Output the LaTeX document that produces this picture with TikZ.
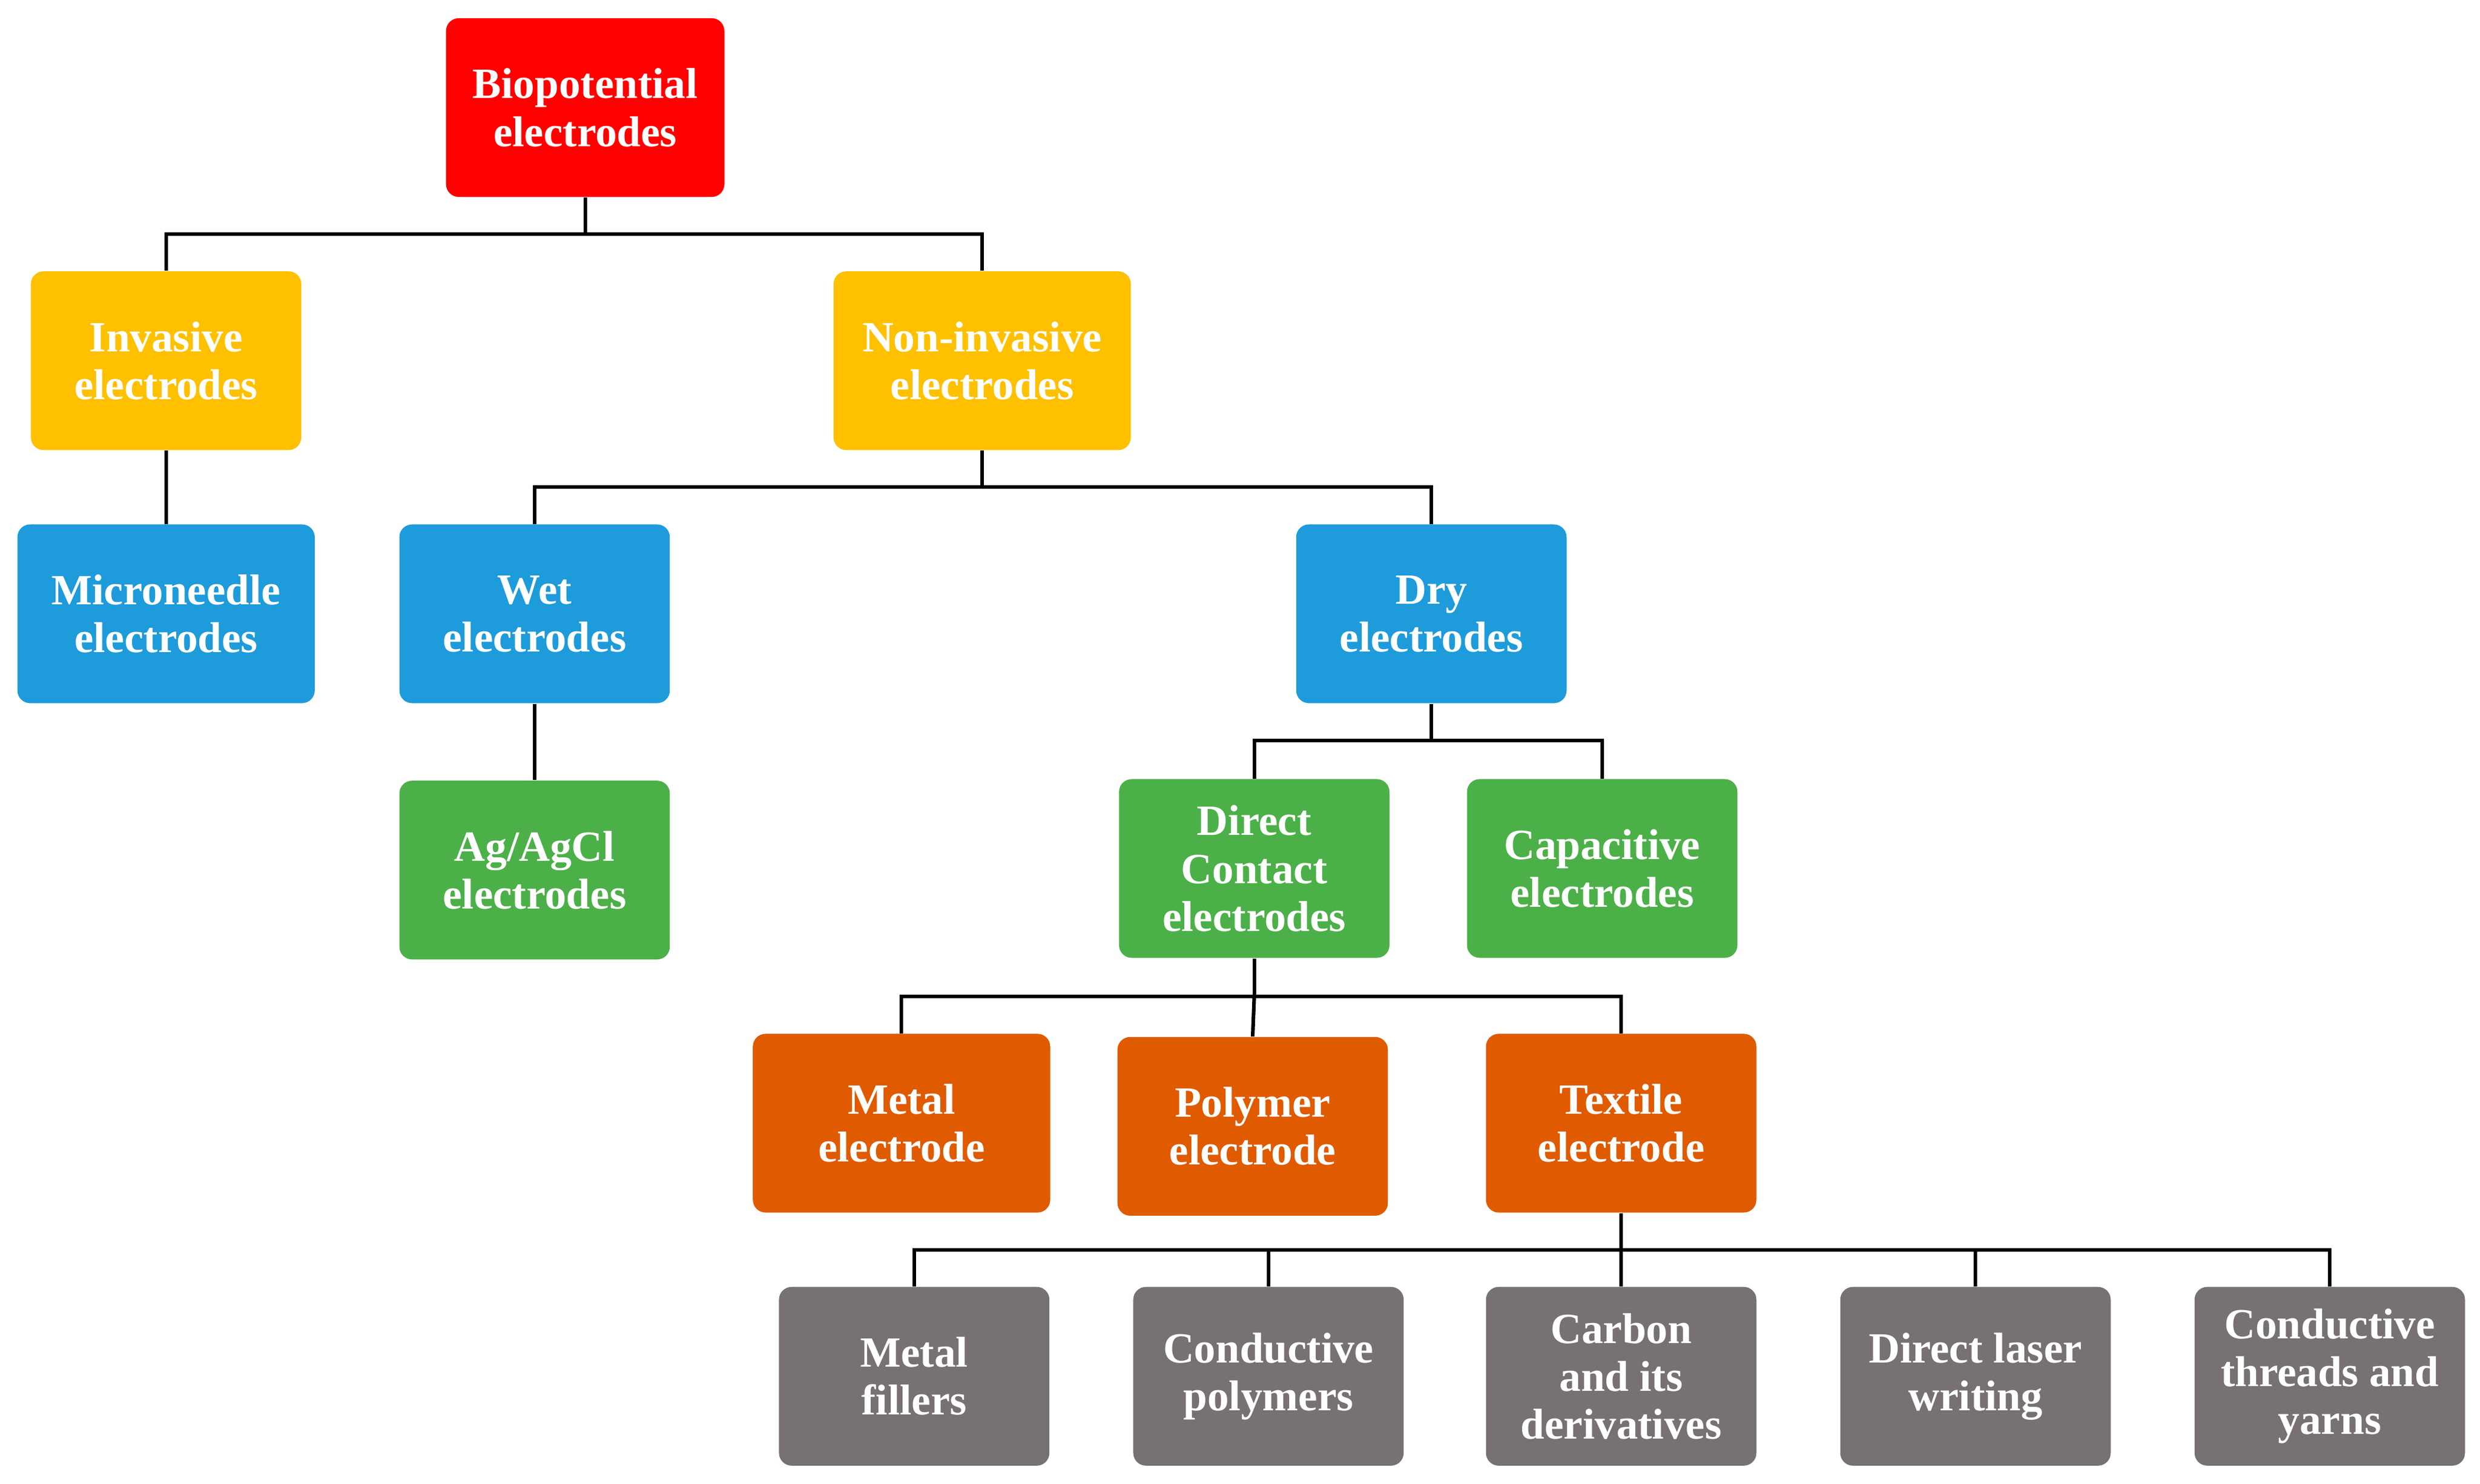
\documentclass[tikz,border=0pt]{standalone}
\usepackage{fontspec}
\setmainfont{Liberation Serif}
\definecolor{cred}{HTML}{FF0000}
\definecolor{cyel}{HTML}{FFC000}
\definecolor{cblue}{HTML}{1E9BDA}
\definecolor{cgreen}{HTML}{4CB048}
\definecolor{corange}{HTML}{E05A00}
\definecolor{cgray}{HTML}{777171}
\begin{document}
\begin{tikzpicture}[x=0.02cm,y=-0.02cm,
  box/.style={rounded corners=0.16cm, minimum width=3.42cm, minimum height=2.26cm,
    text=white, align=center, inner sep=2pt,
    font=\fontsize{15.5}{17.2}\selectfont\bfseries},
  wide/.style={minimum width=3.76cm},
  link/.style={line width=1.3pt, black}]
\fill[white] (0,0) rectangle (1568,938);
\useasboundingbox (0,0) rectangle (1568,938);
\node[box,fill=cred,minimum width=3.52cm] (bio) at (370,68) {Biopotential\\electrodes};
\node[box,fill=cyel] (inv) at (105,228) {Invasive\\electrodes};
\node[box,fill=cyel,wide] (non) at (621,228) {Non-invasive\\electrodes};
\node[box,fill=cblue,wide] (mic) at (105,388) {Microneedle\\electrodes};
\node[box,fill=cblue] (wet) at (338,388) {Wet\\electrodes};
\node[box,fill=cblue] (dry) at (905,388) {Dry\\electrodes};
\node[box,fill=cgreen] (ag) at (338,550) {Ag/AgCl\\electrodes};
\node[box,fill=cgreen] (dc) at (793,549) {Direct\\Contact\\electrodes};
\node[box,fill=cgreen] (cap) at (1013,549) {Capacitive\\electrodes};
\node[box,fill=corange,wide] (me) at (570,710) {Metal\\electrode};
\node[box,fill=corange] (pe) at (792,712) {Polymer\\electrode};
\node[box,fill=corange] (te) at (1025,710) {Textile\\electrode};
\node[box,fill=cgray] (mf) at (578,870) {Metal\\fillers};
\node[box,fill=cgray] (cp) at (802,870) {Conductive\\polymers};
\node[box,fill=cgray] (ca) at (1025,870) {Carbon\\and its\\derivatives};
\node[box,fill=cgray] (dl) at (1249,870) {Direct laser\\writing};
\node[box,fill=cgray] (ct) at (1473,870) {Conductive\\threads and\\yarns};
\coordinate (b1) at (370,148);
\coordinate (b2) at (621,308);
\coordinate (b3) at (905,468);
\coordinate (b4) at (793,630);
\coordinate (b5) at (1025,790);
\draw[link] (bio.south) -- (b1) -| (inv.north);
\draw[link] (b1) -| (non.north);
\draw[link] (inv.south) -- (mic.north);
\draw[link] (non.south) -- (b2) -| (wet.north);
\draw[link] (b2) -| (dry.north);
\draw[link] (wet.south) -- (ag.north);
\draw[link] (dry.south) -- (b3) -| (dc.north);
\draw[link] (b3) -| (cap.north);
\draw[link] (dc.south) -- (b4) -| (me.north);
\draw[link] (b4) -| (te.north);
\draw[link] (b4) -- (pe.north);
\draw[link] (te.south) -- (b5) -| (mf.north);
\draw[link] (b5) -| (cp.north);
\draw[link] (b5) -- (ca.north);
\draw[link] (b5) -| (dl.north);
\draw[link] (b5) -| (ct.north);
\end{tikzpicture}
\end{document}
